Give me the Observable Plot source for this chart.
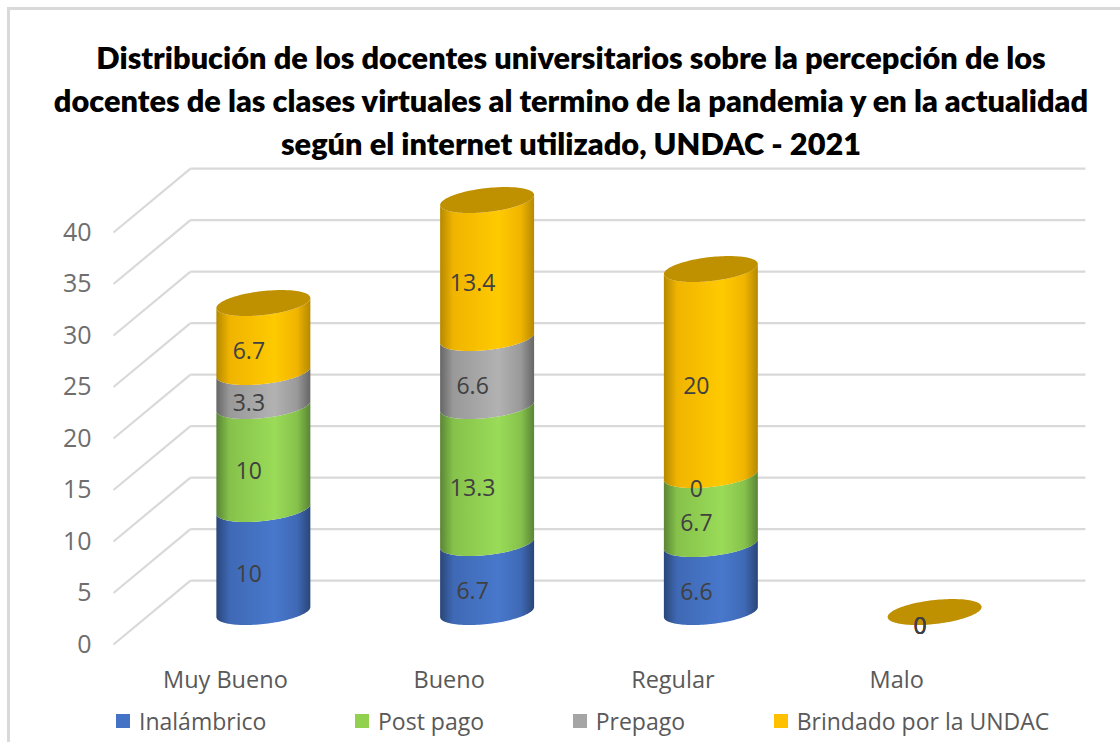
<!DOCTYPE html>
<html lang="es">
<head>
<meta charset="utf-8">
<script src="https://cdn.jsdelivr.net/npm/d3@7"></script>
<script src="https://cdn.jsdelivr.net/npm/@observablehq/plot@0.6"></script>
<style>
  html, body { margin: 0; padding: 0; background: #fff; }
  #page { position: relative; width: 1120px; height: 742px; overflow: hidden; }
  #frame { position: absolute; left: 7px; top: 7px; right: -5px; bottom: -5px; border: 3px solid #d9d9d9; }
  #title { position: relative; height: 160px; box-sizing: border-box; padding-top: 36px; text-align: center;
           font: 800 30.7px/43px Lato, sans-serif; color: #000; margin-left: 22px; white-space: nowrap; }
  #chart svg { display: block; }
  #legend { position: relative; height: 42px; display: flex; align-items: center; gap: 88.7px; padding-left: 116px;
            font: 23px "Open Sans", sans-serif; color: #595959; white-space: nowrap; }
  #legend span.item { display: flex; align-items: center; gap: 9px; }
  #legend i { display: block; width: 14px; height: 14px; }
</style>
</head>
<body>
<div id="page">
  <div id="frame"></div>
  <div id="title"></div>
  <div id="chart"></div>
  <div id="legend"></div>
</div>
<script>
const titleLines = [
  "Distribución de los docentes universitarios sobre la percepción de los",
  "docentes de las clases virtuales al termino de la pandemia y en la actualidad",
  "según el internet utilizado, UNDAC - 2021"
];
const categories = ["Muy Bueno", "Bueno", "Regular", "Malo"];
const seriesNames = ["Inalámbrico", "Post pago", "Prepago", "Brindado por la UNDAC"];
const inalambrico = [10, 6.7, 6.6, 0];
const postPago = [10, 13.3, 6.7, 0];
const prepago = [3.3, 6.6, 0, 0];
const brindado = [6.7, 13.4, 20, 0];
const seriesValues = [inalambrico, postPago, prepago, brindado];
const yTicks = [0, 5, 10, 15, 20, 25, 30, 35, 40];

const legendColors = ["#4472c4", "#92d050", "#a5a5a5", "#ffc000"];
const edgeColors = ["#2a4678", "#5a8536", "#666666", "#b58900"];
const midColors = ["#3f69b5", "#86c24b", "#999999", "#f0b400"];
const lightColors = ["#4878cc", "#9adb58", "#b2b2b2", "#ffca00"];
const capColor = "#bf9000";

// 3D layout of the chart (in scale units)
const depthX = 0.344, depthY = 6.21;
const radius = 0.21, semiMinor = 1.165, tilt = 0.485;
const angles = d3.range(0, 61).map(i => Math.PI * i / 60);

const frontArc = t => -semiMinor * Math.sin(t) + tilt * Math.cos(t);
const backArc = t => semiMinor * Math.sin(t) + tilt * Math.cos(t);

function segmentRows(si) {
  const rows = [];
  categories.forEach((c, ci) => {
    const v0 = d3.sum(seriesValues.slice(0, si), s => s[ci]);
    const v1 = v0 + seriesValues[si][ci];
    if (v1 === v0) return;
    for (const t of angles) rows.push({
      c, x: ci + depthX / 2 + radius * Math.cos(t),
      y1: v0 + depthY / 2 + frontArc(t),
      y2: v1 + depthY / 2 + frontArc(t)
    });
  });
  return rows;
}
const capRows = categories.flatMap((c, ci) => {
  const total = d3.sum(seriesValues, s => s[ci]);
  return angles.map(t => ({
    c, x: ci + depthX / 2 + radius * Math.cos(t),
    y1: total + depthY / 2 + frontArc(t),
    y2: total + depthY / 2 + backArc(t)
  }));
});
const labelRows = categories.flatMap((c, ci) => {
  let acc = 0;
  return seriesValues.map(s => {
    const v = s[ci];
    const row = { x: ci + depthX / 2, y: acc + v / 2 + depthY / 2, v };
    acc += v;
    return row;
  });
});

const defs = () => {
  const d = d3.create("svg:defs");
  legendColors.forEach((_, i) => {
    const g = d.append("linearGradient").attr("id", "cyl" + i).attr("x1", 0).attr("x2", 1).attr("y1", 0).attr("y2", 0);
    [[0, edgeColors[i]], [0.14, midColors[i]], [0.62, lightColors[i]], [0.86, midColors[i]], [1, edgeColors[i]]]
      .forEach(([o, c]) => g.append("stop").attr("offset", o).attr("stop-color", c));
  });
  return d.node();
};

const grid = { stroke: "#d9d9d9", strokeWidth: 2.2, strokeOpacity: 1 };

const chart = Plot.plot({
  width: 1120,
  height: 540,
  marginLeft: 113, marginRight: 112, marginTop: 72, marginBottom: 56,
  x: { type: "linear", domain: [-0.5, 3.5], range: [113, 1008] },
  y: { type: "linear", domain: [0, 40], range: [484, 72] },
  style: { fontFamily: "'Open Sans', sans-serif", background: "transparent", overflow: "visible" },
  marks: [
    defs,
    Plot.link(yTicks, { x1: -0.5, x2: -0.5 + depthX, y1: d => d, y2: d => d + depthY, ...grid }),
    Plot.link(yTicks, { x1: -0.5 + depthX, x2: 3.5 + depthX, y1: d => d + depthY, y2: d => d + depthY, ...grid }),
    ...seriesNames.map((_, i) => Plot.areaY(segmentRows(i), {
      x: "x", y1: "y1", y2: "y2", z: "c", fill: `url(#cyl${i})`
    })),
    Plot.areaY(capRows, { x: "x", y1: "y1", y2: "y2", z: "c", fill: capColor }),
    Plot.text(labelRows, {
      x: "x", y: "y", text: d => String(d.v), dx: -15, dy: 14,
      fontSize: 23, fill: "#404040"
    }),
    Plot.axisY(yTicks, { anchor: "left", tickSize: 0, tickPadding: 22, fontSize: 25, color: "#6e6e6e", label: null }),
    Plot.axisX([0, 1, 2, 3], {
      anchor: "bottom", tickSize: 0, tickPadding: 27, fontSize: 23.5, color: "#595959",
      tickFormat: i => categories[i], label: null
    })
  ]
});
document.getElementById("chart").append(chart);

const titleEl = document.getElementById("title");
titleLines.forEach(l => { const d = document.createElement("div"); d.textContent = l; titleEl.append(d); });

const legendEl = document.getElementById("legend");
seriesNames.forEach((n, i) => {
  const s = document.createElement("span"); s.className = "item";
  const sw = document.createElement("i"); sw.style.background = legendColors[i];
  const t = document.createElement("span"); t.textContent = n;
  s.append(sw, t); legendEl.append(s);
});
</script>
</body>
</html>
